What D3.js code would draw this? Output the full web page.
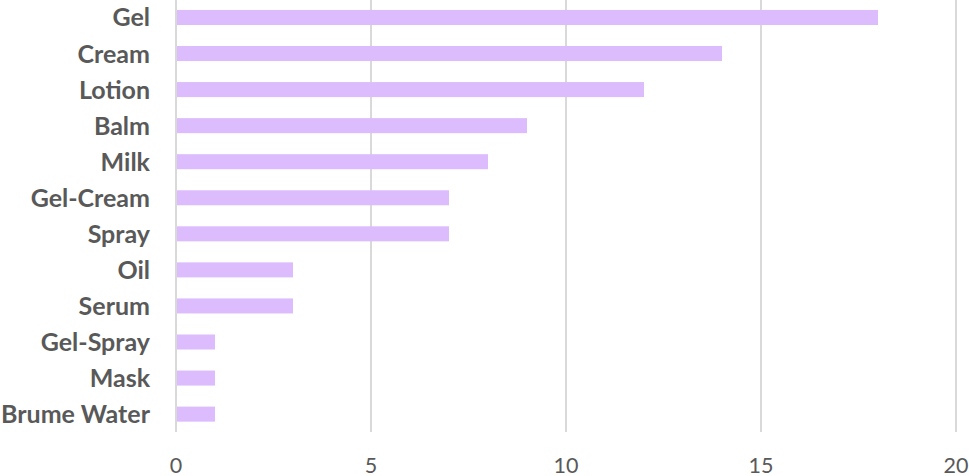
<!DOCTYPE html>
<html><head><meta charset="utf-8">
<script src="https://cdn.jsdelivr.net/npm/d3@7"></script>
<style>body{margin:0;background:#fff}svg{display:block}</style>
</head><body>
<svg id="c" width="969" height="476"></svg>
<script>
const categories = ["Gel","Cream","Lotion","Balm","Milk","Gel-Cream","Spray","Oil","Serum","Gel-Spray","Mask","Brume Water"];
const values = [18,14,12,9,8,7,7,3,3,1,1,1];
const xTicks = [0,5,10,15,20];

const svg = d3.select("#c");
const x = d3.scaleLinear().domain([0,20]).range([176,956]);
const y = d3.scaleBand().domain(categories).range([-0.5,432.1]).paddingInner(0.583).paddingOuter(0.29);

svg.append("g").selectAll("line").data(xTicks).join("line")
  .attr("x1",d=>x(d)).attr("x2",d=>x(d)).attr("y1",0).attr("y2",432)
  .attr("stroke","#d9d9d9").attr("stroke-width",2);

svg.append("g").selectAll("rect").data(categories).join("rect")
  .attr("x",x(0)+1).attr("y",d=>y(d))
  .attr("width",(d,i)=>x(values[i])-x(0)-1).attr("height",y.bandwidth())
  .attr("fill","#dcbcfc");

svg.append("g").selectAll("text").data(categories).join("text")
  .attr("x",150).attr("y",d=>y(d)+y.bandwidth()/2).attr("dy","0.36em")
  .attr("text-anchor","end").attr("font-family","Lato, sans-serif").attr("font-weight","bold")
  .attr("font-size",25).attr("fill","#595959").text(d=>d);

svg.append("g").selectAll("text").data(xTicks).join("text")
  .attr("x",d=>x(d)).attr("y",473)
  .attr("text-anchor","middle").attr("font-family","Lato, sans-serif")
  .attr("font-size",21.5).attr("fill","#595959").text(d=>d);
</script>
</body></html>
